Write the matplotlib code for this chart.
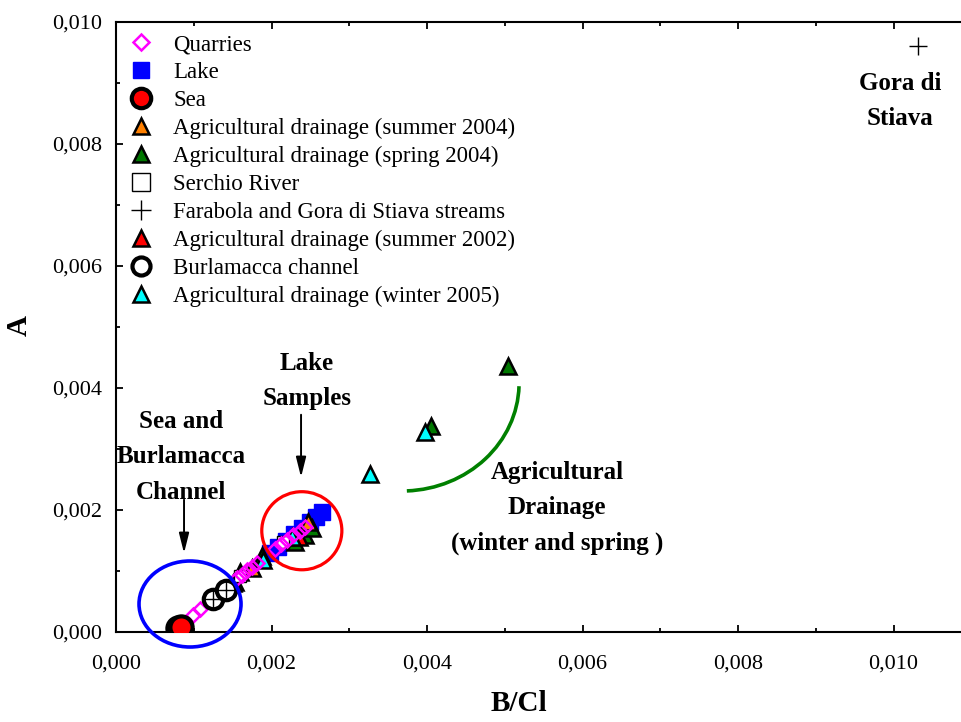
import matplotlib
matplotlib.use("Agg")
import matplotlib.pyplot as plt
from matplotlib.patches import Ellipse, Arc
from matplotlib.lines import Line2D
from matplotlib.ticker import MultipleLocator, FuncFormatter

plt.rcParams['font.family'] = ['Liberation Serif', 'DejaVu Serif']

# ---------------- data (B/Cl, A) ----------------
quarries_x = [0.00099, 0.00108, 0.00156, 0.00162, 0.00168, 0.00175, 0.00181,
              0.00205, 0.00212, 0.00220, 0.00228, 0.00237, 0.00243]
quarries_y = [0.00028, 0.00038, 0.00089, 0.00093, 0.00102, 0.00107, 0.00113,
              0.00136, 0.00144, 0.00151, 0.00159, 0.00166, 0.00172]

lake_x = [0.00198, 0.00208, 0.00219, 0.00229, 0.00239, 0.00250, 0.00257, 0.00265]
lake_y = [0.00130, 0.00140, 0.00150, 0.00160, 0.00171, 0.00181, 0.00189, 0.00196]

sea_x = [0.00080, 0.00084]
sea_y = [0.00007, 0.00009]

summer2004_x = [0.00247, 0.00175]
summer2004_y = [0.00180, 0.00105]

spring2004_x = [0.00504, 0.00405, 0.00153, 0.00159, 0.00188, 0.00230, 0.00243, 0.00252]
spring2004_y = [0.00436, 0.00338, 0.00082, 0.00098, 0.00125, 0.00148, 0.00159, 0.00170]

serchio_x = [0.00160, 0.00215]
serchio_y = [0.00092, 0.00147]

farabola_x = [0.01031, 0.00125, 0.00141]
farabola_y = [0.00960, 0.00054, 0.00069]

summer2002_x = [0.00150, 0.00236]
summer2002_y = [0.00080, 0.00155]

burlamacca_x = [0.00125, 0.00141]
burlamacca_y = [0.00054, 0.00069]

winter2005_x = [0.00327, 0.00397, 0.00189, 0.00226]
winter2005_y = [0.00259, 0.00328, 0.00118, 0.00156]

# ---------------- figure ----------------
fig = plt.figure(figsize=(9.61, 7.22), dpi=100)
ax = fig.add_axes([116/961, 90/722, 1 - 116/961, 610/722])

XMAX = 0.010868
ax.set_xlim(0, XMAX)
ax.set_ylim(0, 0.010)

TFS = 16

ax.plot(lake_x, lake_y, ls='none', marker='s', ms=11, mfc='#0000FF', mec='#0000FF', zorder=3)
ax.plot(spring2004_x, spring2004_y, ls='none', marker='^', ms=11, mfc='#007800', mec='black', mew=1.8, zorder=4)
ax.plot(summer2002_x, summer2002_y, ls='none', marker='^', ms=11, mfc='#FF0000', mec='black', mew=1.8, zorder=4)
ax.plot(winter2005_x, winter2005_y, ls='none', marker='^', ms=11, mfc='#00FFFF', mec='black', mew=1.8, zorder=5)
ax.plot(summer2004_x, summer2004_y, ls='none', marker='^', ms=11, mfc='#FF8000', mec='black', mew=1.8, zorder=5)
ax.plot(serchio_x, serchio_y, ls='none', marker='s', ms=9, mfc='white', mec='black', mew=1.0, zorder=5)
ax.plot(quarries_x, quarries_y, ls='none', marker='D', ms=7, mfc='none', mec='#FF00FF', mew=1.8, zorder=6)
ax.plot(burlamacca_x, burlamacca_y, ls='none', marker='o', ms=14, mfc='white', mec='black', mew=3, zorder=7)
ax.plot(farabola_x, farabola_y, ls='none', marker='+', ms=13, mec='black', mew=1.0, zorder=8)
ax.plot(sea_x, sea_y, ls='none', marker='o', ms=16, mfc='#FF0000', mec='black', mew=3, zorder=9)

# annotations
ax.add_patch(Ellipse((0.000952, 0.000459), 0.001312, 0.00141, fill=False, ec='#0000FF',
                     lw=2.6, zorder=10, clip_on=False))
ax.add_patch(Ellipse((0.00239, 0.00166), 0.00103, 0.00128, fill=False, ec='#FF0000',
                     lw=2.3, zorder=10))
ax.add_patch(Arc((0.003679, 0.004082), 0.00301, 0.003541, theta1=272, theta2=358,
                 ec='#008000', lw=2.6, zorder=10))

bold = dict(fontsize=18, fontweight='bold', ha='center', va='center', linespacing=1.68)
ax.text(0.000836, 0.002869, "Sea and\nBurlamacca\nChannel", **bold)
ax.text(0.002457, 0.004120, "Lake\nSamples", **bold)
ax.text(0.005672, 0.002030, "Agricultural\nDrainage\n(winter and spring )", **bold)
ax.text(0.010084, 0.008700, "Gora di\nStiava", **bold)

arrowprops = dict(arrowstyle='-|>,head_width=0.3,head_length=1.2', color='black', lw=1.4)
ax.annotate('', xy=(0.000875, 0.001246), xytext=(0.000875, 0.002213), arrowprops=arrowprops)
ax.annotate('', xy=(0.00238, 0.002492), xytext=(0.00238, 0.003607), arrowprops=arrowprops)

# axes styling
ax.spines['right'].set_visible(False)
for s in ['left', 'bottom', 'top']:
    ax.spines[s].set_linewidth(1.5)
ax.xaxis.set_major_locator(MultipleLocator(0.002))
ax.xaxis.set_minor_locator(MultipleLocator(0.001))
ax.yaxis.set_major_locator(MultipleLocator(0.002))
ax.yaxis.set_minor_locator(MultipleLocator(0.001))
fmt = FuncFormatter(lambda v, p: f"{v:.3f}".replace('.', ','))
ax.xaxis.set_major_formatter(fmt)
ax.yaxis.set_major_formatter(fmt)
ax.tick_params(which='both', direction='in', top=True, right=False, labelsize=TFS, width=1.3)
ax.tick_params(which='major', length=5)
ax.tick_params(which='minor', length=3)
ax.tick_params(axis='x', which='major', pad=16)
ax.tick_params(axis='y', which='major', pad=10)

ax.set_xlabel("B/Cl", fontsize=21, fontweight='bold')
ax.xaxis.set_label_coords((519 - 116) / 845, -(690 - 632) / 610)
ax.set_ylabel("A", fontsize=21, fontweight='bold')
ax.yaxis.set_label_coords(-(116 - 33) / 845, (632 - 325) / 610)

handles = [
    Line2D([], [], ls='none', marker='D', ms=8, mfc='none', mec='#FF00FF', mew=1.8),
    Line2D([], [], ls='none', marker='s', ms=12, mfc='#0000FF', mec='#0000FF'),
    Line2D([], [], ls='none', marker='o', ms=14, mfc='#FF0000', mec='black', mew=3),
    Line2D([], [], ls='none', marker='^', ms=12, mfc='#FF8000', mec='black', mew=1.8),
    Line2D([], [], ls='none', marker='^', ms=12, mfc='#007800', mec='black', mew=1.8),
    Line2D([], [], ls='none', marker='s', ms=13, mfc='white', mec='black', mew=1.0),
    Line2D([], [], ls='none', marker='+', ms=15, mec='black', mew=1.0),
    Line2D([], [], ls='none', marker='^', ms=12, mfc='#FF0000', mec='black', mew=1.8),
    Line2D([], [], ls='none', marker='o', ms=13, mfc='white', mec='black', mew=3),
    Line2D([], [], ls='none', marker='^', ms=12, mfc='#00FFFF', mec='black', mew=1.8),
]
labels = ["Quarries", "Lake", "Sea", "Agricultural drainage (summer 2004)",
          "Agricultural drainage (spring 2004)", "Serchio River",
          "Farabola and Gora di Stiava streams", "Agricultural drainage (summer 2002)",
          "Burlamacca channel", "Agricultural drainage (winter 2005)"]
ax.legend(handles, labels, loc='upper left', frameon=False, fontsize=16.5,
          labelspacing=0.3, handlelength=1.4, handletextpad=0.7, borderaxespad=0.0,
          bbox_to_anchor=(0.0, 0.995))

fig.savefig("out.png", dpi=100)
